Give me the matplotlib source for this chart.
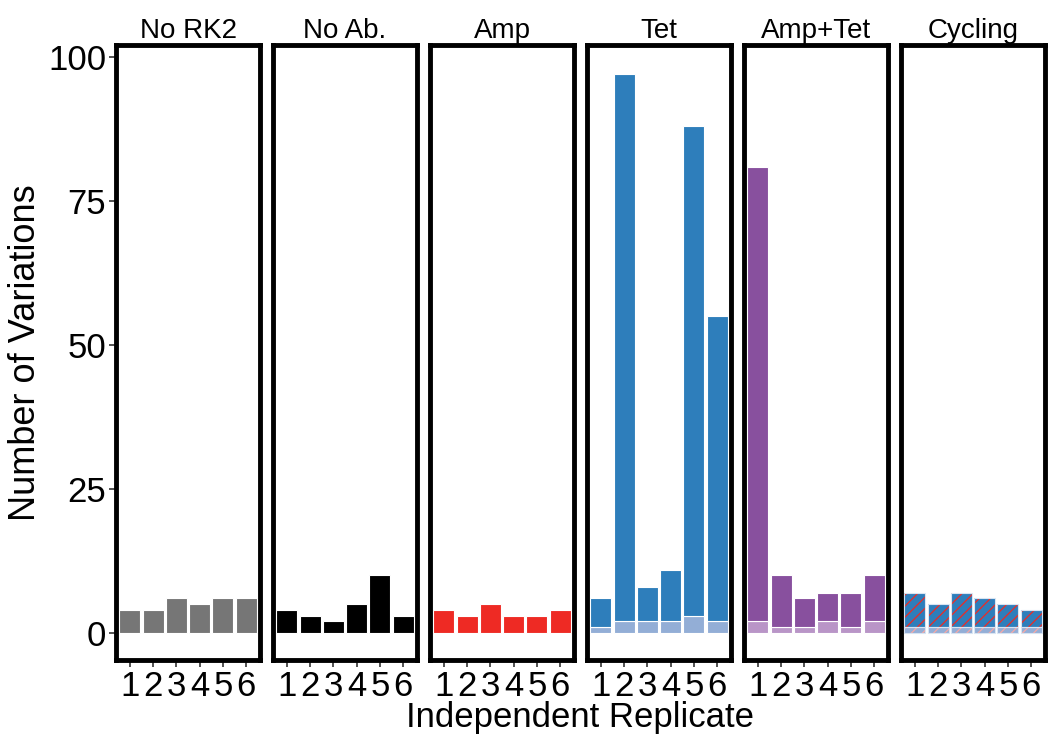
import numpy as np
import matplotlib.pyplot as plt

plt.rcParams['font.family'] = ['Liberation Sans', 'DejaVu Sans']
plt.rcParams['hatch.linewidth'] = 0.9

panels = ['No RK2', 'No Ab.', 'Amp', 'Tet', 'Amp+Tet', 'Cycling']
reps = [1, 2, 3, 4, 5, 6]

# total variations per replicate
totals = {
    'No RK2':  [4, 4, 6, 5, 6, 6],
    'No Ab.':  [4, 3, 2, 5, 10, 3],
    'Amp':     [4, 3, 5, 3, 3, 4],
    'Tet':     [6, 97, 8, 11, 88, 55],
    'Amp+Tet': [81, 10, 6, 7, 7, 10],
    'Cycling': [7, 5, 7, 6, 5, 4],
}
# lower (lighter) part of each stack
lower = {
    'No RK2':  [0, 0, 0, 0, 0, 0],
    'No Ab.':  [0, 0, 0, 0, 0, 0],
    'Amp':     [0, 0, 0, 0, 0, 0],
    'Tet':     [1, 2, 2, 2, 3, 2],
    'Amp+Tet': [2, 1, 1, 2, 1, 2],
    'Cycling': [1, 1, 1, 1, 1, 1],
}

dark = {'No RK2': '#767676', 'No Ab.': '#000000', 'Amp': '#EE2A24',
        'Tet': '#2E7EBB', 'Amp+Tet': '#88509E', 'Cycling': '#2E7EBB'}
light = {'No RK2': '#BBBBBB', 'No Ab.': '#808080', 'Amp': '#F59490',
         'Tet': '#93AED6', 'Amp+Tet': '#B995C7', 'Cycling': '#93AED6'}

fig = plt.figure(figsize=(10.51, 7.36), dpi=100)
W, H = 1051, 736
left, pw, gap = 116, 144, 13
top, bottom = 45, 660

for i, name in enumerate(panels):
    x0 = left + i * (pw + gap)
    ax = fig.add_axes([x0 / W, 1 - bottom / H, pw / W, (bottom - top) / H])
    tot = np.array(totals[name])
    low = np.array(lower[name])
    up = tot - low
    if name == 'Cycling':
        ax.bar(reps, low, width=0.9, color=light[name], edgecolor='#F7A7A4',
               hatch='///', linewidth=0)
        ax.bar(reps, up, bottom=low, width=0.9, color=dark[name],
               edgecolor='#EE2A24', hatch='///', linewidth=0)
        ax.bar(reps, low, width=0.9, fill=False, edgecolor='#D8E4F2', linewidth=0.8)
        ax.bar(reps, up, bottom=low, width=0.9, fill=False, edgecolor='#D8E4F2', linewidth=0.8)
    else:
        ax.bar(reps, low, width=0.9, color=light[name], edgecolor='white', linewidth=0.8)
        ax.bar(reps, up, bottom=low, width=0.9, color=dark[name],
               edgecolor='white', linewidth=0.8)

    ax.set_xlim(0.4, 6.6)
    ax.set_ylim(-4.7, 102.1)
    ax.set_xticks(reps)
    ax.set_xticklabels([str(r) for r in reps], fontsize=25)
    ax.tick_params(axis='x', length=5, width=1.2, pad=2, color='#333333')
    ax.set_yticks([0, 25, 50, 75, 100])
    if i == 0:
        ax.set_yticklabels(['0', '25', '50', '75', '100'], fontsize=25)
        ax.tick_params(axis='y', length=5, width=1.2, pad=2, color='#333333')
        ax.set_ylabel('Number of Variations', fontsize=26, labelpad=4)
    else:
        ax.tick_params(axis='y', left=False, labelleft=False)
    for s in ax.spines.values():
        s.set_linewidth(3.5)
        s.set_color('black')
    ax.set_title(name, fontsize=20, pad=5)

fig.text((left + 3 * (pw + gap) - gap / 2) / W, 1 - 717 / H, 'Independent Replicate',
         fontsize=25, ha='center', va='center')

fig.savefig('out.png', dpi=100)
